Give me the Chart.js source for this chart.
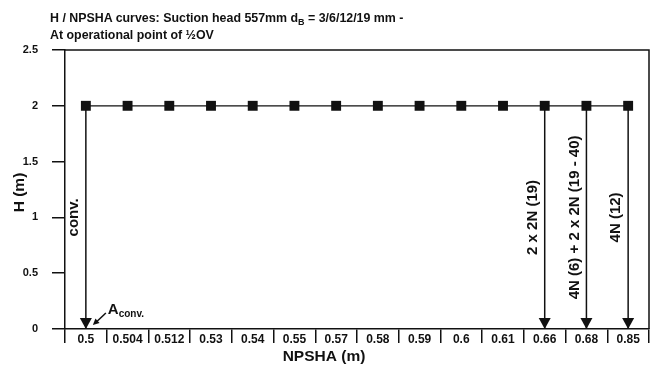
<!DOCTYPE html>
<html>
<head>
<meta charset="utf-8">
<script src="https://cdn.jsdelivr.net/npm/chart.js@4/dist/chart.umd.min.js"></script>
<style>
  html, body { margin: 0; padding: 0; background: #fff; }
  #wrap { position: relative; width: 658px; height: 367px; }
  canvas { position: absolute; left: 0; top: 0; }
  #title {
    position: absolute; left: 50px; top: 10px;
    font: bold 12.4px "Liberation Sans", Arial, sans-serif;
    line-height: 17px; color: #111; white-space: nowrap;
  }
  #title sub { font-size: 9px; vertical-align: -3px; line-height: 0; }
</style>
</head>
<body>
<div id="wrap">
  <canvas id="c" width="658" height="367"></canvas>
  <div id="title">H / NPSHA curves: Suction head 557mm d<sub>B</sub> = 3/6/12/19 mm -<br>At operational point of ½OV</div>
</div>
<script>
// NPSHA categories (m) and head values H (m) at each
const npshaLabels = ['0.5', '0.504', '0.512', '0.53', '0.54', '0.55', '0.57', '0.58', '0.59', '0.6', '0.61', '0.66', '0.68', '0.85'];
const headValues = [2, 2, 2, 2, 2, 2, 2, 2, 2, 2, 2, 2, 2, 2];

// Vertical drop arrows: where they sit, their captions, start/end head
const arrowAt = ['0.5', '0.66', '0.68', '0.85'];
const arrowText = ['conv.', '2 x 2N (19)', '4N (6) + 2 x 2N (19 - 40)', '4N (12)'];
const arrowFromH = 2;
const arrowToH = 0;

// Head axis range
const hMin = 0, hMax = 2.5, hStep = 0.5;

const INK = '#111';
const FONT = '"Liberation Sans", Arial, sans-serif';

const arrowSets = arrowAt.map((cat, i) => ({
  type: 'line',
  label: arrowText[i],
  data: [{ x: cat, y: arrowFromH }, { x: cat, y: arrowToH }],
  borderColor: INK,
  borderWidth: 1.5,
  pointRadius: 0,
  order: 2,
  isArrow: true
}));

const annotations = {
  id: 'annotations',
  afterDatasetsDraw(chart) {
    const ctx = chart.ctx;
    const a = chart.chartArea;
    ctx.save();

    // frame: top and right edges
    ctx.strokeStyle = INK;
    ctx.lineWidth = 1.5;
    ctx.beginPath();
    ctx.moveTo(a.left, a.top);
    ctx.lineTo(a.right, a.top);
    ctx.lineTo(a.right, a.bottom);
    ctx.stroke();

    // arrowheads and rotated captions
    chart.data.datasets.forEach((ds, idx) => {
      if (!ds.isArrow) return;
      const pts = chart.getDatasetMeta(idx).data;
      const top = pts[0], tip = pts[1];
      ctx.fillStyle = INK;
      ctx.beginPath();
      ctx.moveTo(tip.x, tip.y);
      ctx.lineTo(tip.x - 6, tip.y - 11);
      ctx.lineTo(tip.x + 6, tip.y - 11);
      ctx.closePath();
      ctx.fill();

      ctx.save();
      ctx.translate(tip.x - 12, (top.y + tip.y) / 2);
      ctx.rotate(-Math.PI / 2);
      ctx.font = 'bold 15px ' + FONT;
      ctx.textAlign = 'center';
      ctx.textBaseline = 'middle';
      ctx.fillText(ds.label, 0, 0);
      ctx.restore();
    });

    // "A conv." marker with a small pointer to the conventional point
    const firstArrow = chart.data.datasets.findIndex(d => d.isArrow);
    const p = chart.getDatasetMeta(firstArrow).data[1];
    ctx.fillStyle = INK;
    ctx.font = 'bold 15px ' + FONT;
    ctx.textAlign = 'left';
    ctx.textBaseline = 'alphabetic';
    ctx.fillText('A', p.x + 22, p.y - 15);
    const aw = ctx.measureText('A').width;
    ctx.font = 'bold 10px ' + FONT;
    ctx.fillText('conv.', p.x + 22 + aw, p.y - 12);

    const sx = p.x + 20, sy = p.y - 16, ex = p.x + 7, ey = p.y - 4;
    ctx.lineWidth = 1.5;
    ctx.beginPath();
    ctx.moveTo(sx, sy);
    ctx.lineTo(ex + 4, ey - 3.5);
    ctx.stroke();
    const ang = Math.atan2(ey - sy, ex - sx);
    ctx.beginPath();
    ctx.moveTo(ex, ey);
    ctx.lineTo(ex - 7 * Math.cos(ang - 0.45), ey - 7 * Math.sin(ang - 0.45));
    ctx.lineTo(ex - 7 * Math.cos(ang + 0.45), ey - 7 * Math.sin(ang + 0.45));
    ctx.closePath();
    ctx.fill();

    // axis titles
    ctx.font = 'bold 15.5px ' + FONT;
    ctx.textAlign = 'center';
    ctx.textBaseline = 'middle';
    ctx.fillText('NPSHA (m)', (a.left + a.right) / 2 - 33, 357);
    ctx.save();
    ctx.translate(20, (a.top + a.bottom) / 2 + 3);
    ctx.rotate(-Math.PI / 2);
    ctx.fillText('H (m)', 0, 0);
    ctx.restore();

    ctx.restore();
  }
};

new Chart(document.getElementById('c'), {
  type: 'line',
  data: {
    labels: npshaLabels,
    datasets: [
      {
        label: 'H',
        data: headValues,
        borderColor: INK,
        borderWidth: 1.3,
        pointStyle: 'rect',
        pointRadius: 7,
        pointBackgroundColor: INK,
        pointBorderColor: INK,
        pointBorderWidth: 0,
        order: 0
      },
      ...arrowSets
    ]
  },
  options: {
    responsive: false,
    devicePixelRatio: 1,
    animation: false,
    layout: { padding: { top: 50, right: 9, left: 0, bottom: 0 } },
    plugins: {
      legend: { display: false },
      tooltip: { enabled: false },
      title: { display: false }
    },
    scales: {
      x: {
        type: 'category',
        offset: true,
        grid: {
          offset: true,
          drawOnChartArea: false,
          drawTicks: true,
          tickLength: 14,
          color: INK,
          lineWidth: 1.5
        },
        border: { display: true, color: INK, width: 1.5 },
        ticks: {
          autoSkip: false,
          maxRotation: 0,
          padding: -11,
          color: INK,
          font: { family: FONT, size: 12, weight: 'bold' }
        },
        afterFit(scale) { scale.height = 38; }
      },
      y: {
        min: hMin,
        max: hMax,
        grid: {
          drawOnChartArea: false,
          drawTicks: true,
          tickLength: 13,
          color: INK,
          lineWidth: 1.5
        },
        border: { display: true, color: INK, width: 1.5 },
        ticks: {
          stepSize: hStep,
          padding: 14,
          color: INK,
          font: { family: FONT, size: 11, weight: 'bold' },
          callback: v => String(Number(v))
        },
        afterFit(scale) { scale.width = 65; }
      }
    }
  },
  plugins: [annotations]
});
</script>
</body>
</html>
